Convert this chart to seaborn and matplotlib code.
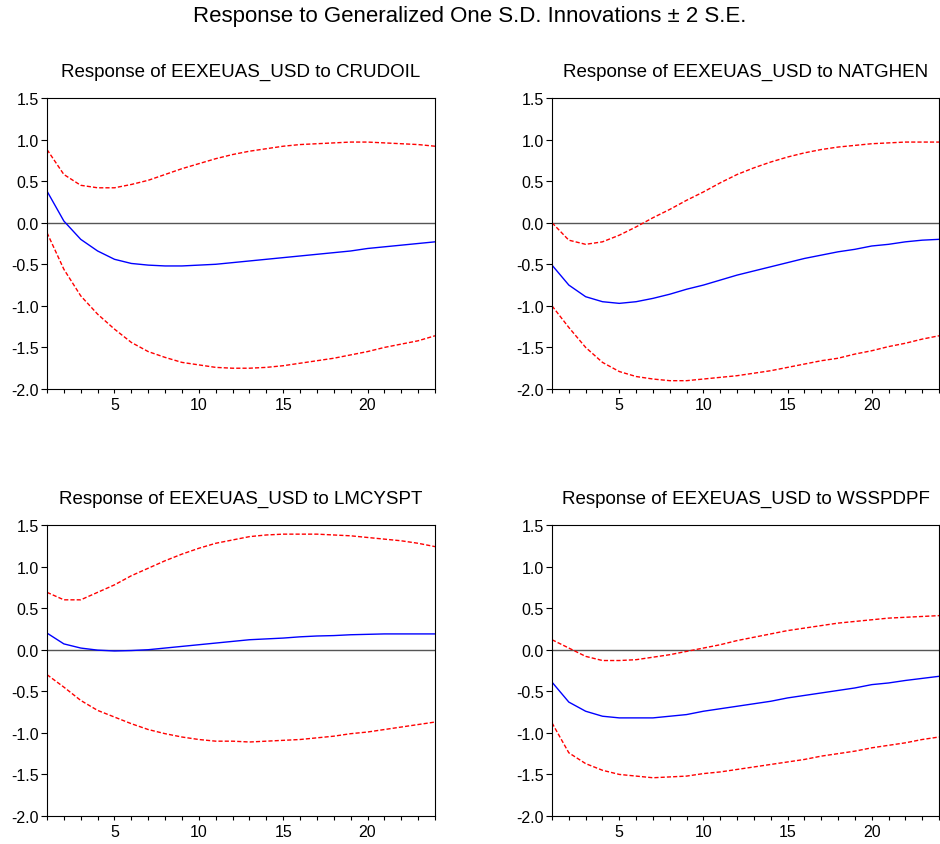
import numpy as np
import pandas as pd
import matplotlib
matplotlib.use('Agg')
import matplotlib.pyplot as plt
import seaborn as sns

sns.set_style('ticks')
plt.rcParams['font.family'] = ['Liberation Sans', 'DejaVu Sans']
plt.rcParams['text.color'] = 'black'

periods = list(range(1, 25))

titles = ['Response of EEXEUAS_USD to CRUDOIL',
          'Response of EEXEUAS_USD to NATGHEN',
          'Response of EEXEUAS_USD to LMCYSPT',
          'Response of EEXEUAS_USD to WSSPDPF']

# CRUDOIL
resp_crudoil = [0.38, 0.02, -0.20, -0.34, -0.44, -0.49, -0.51, -0.52, -0.52, -0.51, -0.50, -0.48,
                -0.46, -0.44, -0.42, -0.40, -0.38, -0.36, -0.34, -0.31, -0.29, -0.27, -0.25, -0.23]
up_crudoil = [0.88, 0.58, 0.45, 0.42, 0.42, 0.46, 0.51, 0.58, 0.65, 0.71, 0.77, 0.82,
              0.86, 0.89, 0.92, 0.94, 0.95, 0.96, 0.97, 0.97, 0.96, 0.95, 0.94, 0.92]
lo_crudoil = [-0.12, -0.56, -0.88, -1.10, -1.28, -1.44, -1.55, -1.62, -1.68, -1.71, -1.74, -1.75,
              -1.75, -1.74, -1.72, -1.69, -1.66, -1.63, -1.59, -1.55, -1.50, -1.46, -1.42, -1.36]

# NATGHEN
resp_natghen = [-0.51, -0.75, -0.89, -0.95, -0.97, -0.95, -0.91, -0.86, -0.80, -0.75, -0.69, -0.63,
                -0.58, -0.53, -0.48, -0.43, -0.39, -0.35, -0.32, -0.28, -0.26, -0.23, -0.21, -0.20]
up_natghen = [0.00, -0.21, -0.26, -0.23, -0.15, -0.05, 0.06, 0.16, 0.27, 0.37, 0.48, 0.58,
              0.66, 0.73, 0.79, 0.84, 0.88, 0.91, 0.93, 0.95, 0.96, 0.97, 0.97, 0.97]
lo_natghen = [-1.00, -1.26, -1.50, -1.68, -1.79, -1.85, -1.88, -1.90, -1.90, -1.88, -1.86, -1.84,
              -1.81, -1.78, -1.74, -1.70, -1.66, -1.63, -1.58, -1.54, -1.49, -1.45, -1.40, -1.36]

# LMCYSPT
resp_lmcyspt = [0.20, 0.07, 0.02, -0.005, -0.015, -0.01, 0.00, 0.02, 0.04, 0.06, 0.08, 0.10,
                0.12, 0.13, 0.14, 0.155, 0.165, 0.17, 0.18, 0.185, 0.19, 0.19, 0.19, 0.19]
up_lmcyspt = [0.69, 0.60, 0.60, 0.69, 0.78, 0.89, 0.98, 1.07, 1.15, 1.22, 1.28, 1.32,
              1.36, 1.38, 1.39, 1.39, 1.39, 1.38, 1.37, 1.35, 1.33, 1.31, 1.28, 1.24]
lo_lmcyspt = [-0.30, -0.45, -0.61, -0.73, -0.81, -0.89, -0.96, -1.01, -1.05, -1.08, -1.10, -1.10,
              -1.11, -1.10, -1.09, -1.08, -1.06, -1.04, -1.01, -0.99, -0.96, -0.93, -0.90, -0.87]

# WSSPDPF
resp_wsspdpf = [-0.39, -0.63, -0.74, -0.80, -0.82, -0.82, -0.82, -0.80, -0.78, -0.74, -0.71, -0.68,
                -0.65, -0.62, -0.58, -0.55, -0.52, -0.49, -0.46, -0.42, -0.40, -0.37, -0.345, -0.32]
up_wsspdpf = [0.12, 0.02, -0.08, -0.13, -0.13, -0.12, -0.09, -0.06, -0.02, 0.02, 0.06, 0.11,
              0.15, 0.19, 0.23, 0.26, 0.29, 0.32, 0.34, 0.36, 0.38, 0.39, 0.40, 0.41]
lo_wsspdpf = [-0.88, -1.24, -1.37, -1.45, -1.50, -1.52, -1.54, -1.53, -1.52, -1.49, -1.47, -1.44,
              -1.41, -1.38, -1.35, -1.32, -1.28, -1.25, -1.22, -1.18, -1.15, -1.12, -1.08, -1.05]

panels = [(resp_crudoil, up_crudoil, lo_crudoil),
          (resp_natghen, up_natghen, lo_natghen),
          (resp_lmcyspt, up_lmcyspt, lo_lmcyspt),
          (resp_wsspdpf, up_wsspdpf, lo_wsspdpf)]

fig = plt.figure(figsize=(9.4, 8.45), dpi=100)
W, H = 940, 845
boxes = [(47, 99, 435, 390), (552, 99, 939, 390),
         (47, 526, 435, 817), (552, 526, 939, 817)]

for (x0, y0, x1, y1), title, (resp, up, lo) in zip(boxes, titles, panels):
    ax = fig.add_axes([x0 / W, 1 - y1 / H, (x1 - x0) / W, (y1 - y0) / H])
    df = pd.DataFrame({'period': periods, 'resp': resp, 'up': up, 'lo': lo})
    ax.axhline(0, color='#555555', lw=1.0, zorder=1)
    sns.lineplot(data=df, x='period', y='up', ax=ax, color='red', lw=1.0, linestyle=(0, (3, 1.5)))
    sns.lineplot(data=df, x='period', y='lo', ax=ax, color='red', lw=1.0, linestyle=(0, (3, 1.5)))
    sns.lineplot(data=df, x='period', y='resp', ax=ax, color='blue', lw=1.0)
    ax.set_xlim(1, 24)
    ax.set_ylim(-2.0, 1.5)
    ax.set_xticks(periods)
    ax.set_xticklabels([str(p) if p % 5 == 0 else '' for p in periods])
    ax.set_yticks(np.arange(-2.0, 1.51, 0.5))
    ax.set_yticklabels(['%.1f' % v for v in np.arange(-2.0, 1.51, 0.5)])
    ax.tick_params(axis='x', direction='out', length=3, width=0.8, labelsize=11.5,
                   colors='black', pad=3)
    ax.tick_params(axis='y', direction='out', length=4, width=0.8, labelsize=11.5,
                   colors='black', pad=2)
    ax.set_xlabel('')
    ax.set_ylabel('')
    for s in ax.spines.values():
        s.set_visible(True)
        s.set_color('black')
        s.set_linewidth(0.8)
    ax.set_title(title, fontsize=13.5, pad=16, color='black')

fig.suptitle('Response to Generalized One S.D. Innovations \u00b1 2 S.E.', fontsize=16,
             y=0.993, color='black')
fig.savefig('out.png', dpi=100)
